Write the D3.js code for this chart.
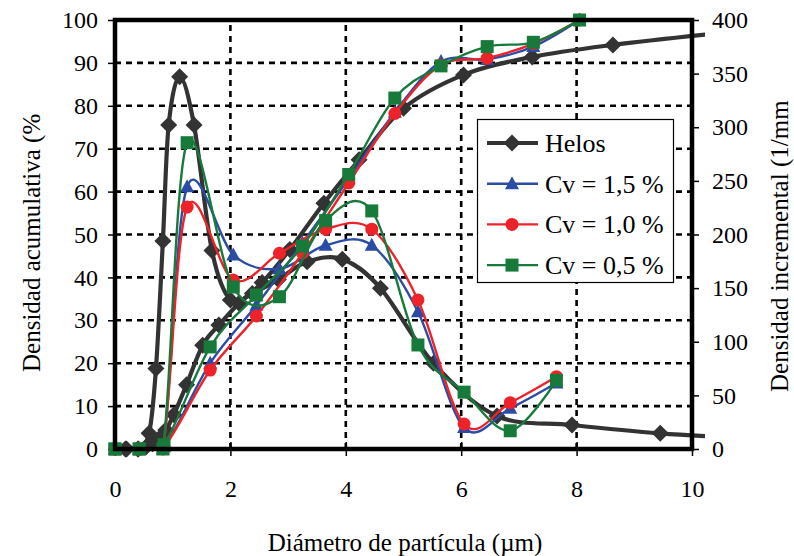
<!DOCTYPE html>
<html>
<head>
<meta charset="utf-8">
<script src="https://cdn.jsdelivr.net/npm/d3@7"></script>
<style>
  html, body { margin: 0; padding: 0; background: #fff; }
  svg { display: block; }
  text { font-family: "Liberation Serif", "Times New Roman", serif; fill: #000; }
</style>
</head>
<body>
<svg id="chart" width="794" height="556"></svg>
<script>
// ---------- DATA ----------
const xTicks = [0, 2, 4, 6, 8, 10];
const yLeftTicks = [0, 10, 20, 30, 40, 50, 60, 70, 80, 90, 100];
const yRightTicks = [0, 50, 100, 150, 200, 250, 300, 350, 400];

// Helos (left axis: cumulative %, right axis: incremental 1/mm)
const helosCumX = [0.18, 0.4, 0.54, 0.65, 0.77, 0.88, 1.02, 1.24, 1.52, 1.8, 2.15, 2.55, 3.03, 3.62, 4.23, 5.0, 6.04, 7.23, 8.63, 10.3];
const helosCumY = [0, 0, 0.5, 1.2, 2.5, 4.4, 8, 15, 24.2, 28.9, 34, 38.8, 46.5, 57.3, 67.4, 79.4, 87.2, 91.4, 94.2, 96.7];
const helosIncX = [0.2, 0.4, 0.59, 0.71, 0.83, 0.93, 1.12, 1.37, 1.68, 2.0, 2.38, 2.83, 3.33, 3.94, 4.6, 5.52, 6.62, 7.92, 9.45, 11.25];
const helosIncY = [0, 0, 14.6, 75, 194, 302, 347, 302, 185, 139, 145, 158, 174.6, 177, 150, 80, 30.8, 22.4, 14.6, 9];

// Cv series share diameters
const cvCumX = [0, 0.42, 0.85, 1.65, 2.45, 3.25, 4.05, 4.85, 5.65, 6.45, 7.25, 8.05];
const cvIncX = [0, 0.42, 0.83, 1.25, 2.05, 2.85, 3.65, 4.45, 5.25, 6.05, 6.85, 7.65];

const cv15Cum = [0, 0, 0.5, 20, 33.5, 48, 63, 78.5, 90.3, 90.8, 93.8, 100];
const cv15Inc = [0, 0, 0, 244.5, 181, 168, 190, 190, 128, 20, 38, 61.5];
const cv10Cum = [0, 0, 0.5, 18.4, 31, 45.7, 62, 78.2, 89.5, 91.1, 94.5, 100];
const cv10Inc = [0, 0, 0, 225.6, 157.6, 182.5, 205, 205, 139, 23.3, 43.2, 67.4];
const cv05Cum = [0, 0, 1, 23.8, 35.9, 47.3, 64, 81.8, 89.3, 93.8, 94.8, 100];
const cv05Inc = [0, 0, 0, 285.6, 151, 142, 213, 222, 97, 53, 17, 64];

const seriesNames = ["Helos", "Cv = 1,5 %", "Cv = 1,0 %", "Cv = 0,5 %"];

// ---------- LAYOUT ----------
const svg = d3.select("#chart");
const X0 = 115, X1 = 692, Y0 = 449, Y1 = 20;
const x = d3.scaleLinear().domain([0, 10]).range([X0, X1]);
const yL = d3.scaleLinear().domain([0, 100]).range([Y0, Y1]);
const yR = d3.scaleLinear().domain([0, 400]).range([Y0, Y1]);

const styles = [
  { name: seriesNames[0], color: "#333333", width: 4.2, marker: "diamond" },
  { name: seriesNames[1], color: "#2b4ca6", width: 2.4, marker: "triangle" },
  { name: seriesNames[2], color: "#ee2329", width: 2.4, marker: "circle" },
  { name: seriesNames[3], color: "#177a3b", width: 2.4, marker: "square" }
];

function markerPath(type) {
  if (type === "diamond") return "M0,-8.5L8.5,0L0,8.5L-8.5,0Z";
  if (type === "triangle") return "M0,-7.5L7,5.5L-7,5.5Z";
  if (type === "square") return "M-6.5,-6.5H6.5V6.5H-6.5Z";
  return d3.symbol(d3.symbolCircle, Math.PI * 6.5 * 6.5)();
}

svg.append("defs").append("clipPath").attr("id", "clip")
  .append("rect").attr("x", 0).attr("y", 0).attr("width", 705).attr("height", Y0);

// ---------- GRID ----------
const grid = svg.append("g");
grid.selectAll("line.h").data(yLeftTicks.filter(d => d > 0 && d < 100)).join("line")
  .attr("x1", X0).attr("x2", X1).attr("y1", d => yL(d)).attr("y2", d => yL(d))
  .attr("stroke", "#000").attr("stroke-width", 2.6).attr("stroke-dasharray", "6,5");
grid.selectAll("line.v").data(xTicks.filter(d => d > 0 && d < 10)).join("line")
  .attr("y1", Y0).attr("y2", Y1).attr("x1", d => x(d)).attr("x2", d => x(d))
  .attr("stroke", "#000").attr("stroke-width", 2.6).attr("stroke-dasharray", "6,5");

// ---------- AXES ----------
const axB = svg.append("g").attr("transform", `translate(0,${Y0})`)
  .call(d3.axisBottom(x).tickValues(xTicks).tickSize(7).tickPadding(24).tickFormat(d3.format("d")));
const axL = svg.append("g").attr("transform", `translate(${X0},0)`)
  .call(d3.axisLeft(yL).tickValues(yLeftTicks).tickSize(7).tickPadding(10).tickFormat(d3.format("d")));
const axR = svg.append("g").attr("transform", `translate(${X1},0)`)
  .call(d3.axisRight(yR).tickValues(yRightTicks).tickSize(7).tickPadding(13).tickFormat(d3.format("d")));
[axB, axL, axR].forEach(a => {
  a.select(".domain").remove();
  a.selectAll(".tick line").attr("stroke", "#000").attr("stroke-width", 1.5);
  a.selectAll(".tick text").style("font-family", "'Liberation Serif', serif").style("font-size", "24px").attr("fill", "#000");
});
axB.selectAll(".tick line").attr("y1", -7).attr("y2", 7);

// ---------- SERIES ----------
const plot = svg.append("g");
const sets = [
  { s: styles[0], cum: [helosCumX, helosCumY], inc: [helosIncX, helosIncY] },
  { s: styles[1], cum: [cvCumX, cv15Cum], inc: [cvIncX, cv15Inc] },
  { s: styles[2], cum: [cvCumX, cv10Cum], inc: [cvIncX, cv10Inc] },
  { s: styles[3], cum: [cvCumX, cv05Cum], inc: [cvIncX, cv05Inc] }
];
const curve = d3.curveCardinal.tension(0);
sets.forEach(set => {
  [[set.cum, yL], [set.inc, yR]].forEach(([arr, ys]) => {
    const pts = arr[0].map((xv, i) => [x(xv), ys(arr[1][i]), xv]);
    plot.append("path")
      .attr("clip-path", "url(#clip)")
      .attr("d", d3.line().curve(curve)(pts.map(p => [p[0], p[1]])))
      .attr("fill", "none").attr("stroke", set.s.color)
      .attr("stroke-width", set.s.width).attr("stroke-linejoin", "round");
    plot.append("g").selectAll("path").data(pts.filter(p => p[2] <= 10)).join("path")
      .attr("transform", d => `translate(${d[0]},${d[1]})`)
      .attr("d", markerPath(set.s.marker))
      .attr("fill", set.s.color);
  });
});

// ---------- FRAME ----------
svg.append("rect").attr("x", X0).attr("y", Y1).attr("width", X1 - X0).attr("height", Y0 - Y1)
  .attr("fill", "none").attr("stroke", "#000").attr("stroke-width", 4.5);

// ---------- LEGEND ----------
const lg = svg.append("g");
lg.append("rect").attr("x", 477.5).attr("y", 119.5).attr("width", 196).attr("height", 163)
  .attr("fill", "#fff").attr("stroke", "#000").attr("stroke-width", 1.2);
styles.forEach((s, i) => {
  const yy = 143 + i * 40.7;
  lg.append("line").attr("x1", 487).attr("x2", 538).attr("y1", yy).attr("y2", yy)
    .attr("stroke", s.color).attr("stroke-width", s.width);
  lg.append("path").attr("transform", `translate(512,${yy})`).attr("d", markerPath(s.marker)).attr("fill", s.color);
  lg.append("text").attr("x", 545).attr("y", yy + 9).style("font-size", "26px").text(s.name);
});

// ---------- TITLES ----------
svg.append("text").attr("x", 405).attr("y", 551).attr("text-anchor", "middle")
  .style("font-size", "25px").text("Diámetro de partícula (µm)");
svg.append("text").attr("transform", "translate(40,372) rotate(-90)")
  .style("font-size", "25px").text("Densidad acumulativa (%");
svg.append("text").attr("transform", "translate(788,392) rotate(-90)")
  .style("font-size", "25px").text("Densidad incremental (1/mm");
</script>
</body>
</html>
